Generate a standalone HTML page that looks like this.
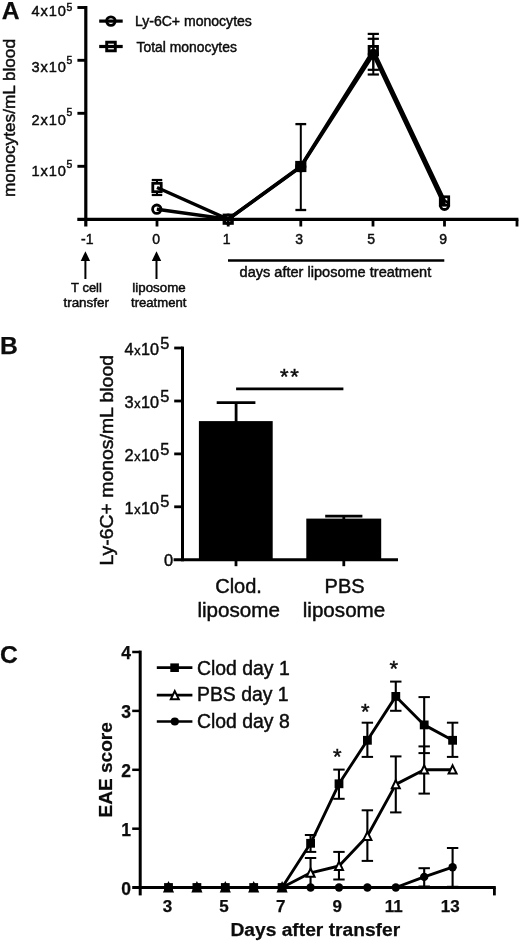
<!DOCTYPE html>
<html lang="en">
<head>
<meta charset="utf-8">
<title>Figure: monocyte depletion and EAE score</title>
<style>
html,body{margin:0;padding:0;background:#fff;}
body{width:520px;height:943px;overflow:hidden;}
svg{display:block;filter:blur(0.3px);font-family:"Liberation Sans",Arial,Helvetica,sans-serif;}
</style>
</head>
<body>
<svg width="520" height="943" viewBox="0 0 520 943">
<rect x="0" y="0" width="520" height="943" fill="#fff"/>
<g id="panelA" stroke="#000" fill="none">
<line x1="85.80" y1="6.00" x2="85.80" y2="226.50" stroke-width="3.2" />
<line x1="77.30" y1="219.40" x2="518.40" y2="219.40" stroke-width="3.4" />
<line x1="77.40" y1="7.50" x2="85.80" y2="7.50" stroke-width="2.9" />
<line x1="77.40" y1="60.30" x2="85.80" y2="60.30" stroke-width="2.9" />
<line x1="77.40" y1="113.30" x2="85.80" y2="113.30" stroke-width="2.9" />
<line x1="77.40" y1="166.30" x2="85.80" y2="166.30" stroke-width="2.9" />
<line x1="157.00" y1="219.40" x2="157.00" y2="226.50" stroke-width="2.8" />
<line x1="228.20" y1="219.40" x2="228.20" y2="226.50" stroke-width="2.8" />
<line x1="300.80" y1="219.40" x2="300.80" y2="226.50" stroke-width="2.8" />
<line x1="373.00" y1="219.40" x2="373.00" y2="226.50" stroke-width="2.8" />
<line x1="444.50" y1="219.40" x2="444.50" y2="226.50" stroke-width="2.8" />
<line x1="517.00" y1="219.40" x2="517.00" y2="226.50" stroke-width="2.8" />
<line x1="228.00" y1="260.50" x2="444.30" y2="260.50" stroke-width="2.3" />
<line x1="85.40" y1="259.00" x2="85.40" y2="279.00" stroke-width="2.0" />
<path d="M85.4 251.2 L90.1 260.9 L80.7 260.9 Z" fill="#000" stroke="none"/>
<line x1="156.50" y1="259.00" x2="156.50" y2="279.00" stroke-width="2.0" />
<path d="M156.5 251.2 L161.2 260.9 L151.8 260.9 Z" fill="#000" stroke="none"/>
<polyline points="157.0,187.5 228.2,219.2 300.8,166.5 373.3,50.6 444.5,201.0" stroke-width="3.4" stroke-linejoin="miter"/>
<polyline points="156.8,209.2 228.2,219.2 300.8,166.8 373.3,54.3 444.5,205.3" stroke-width="3.4" stroke-linejoin="miter"/>
<line x1="157.00" y1="180.00" x2="157.00" y2="183.50" stroke-width="2.0" />
<line x1="157.00" y1="191.50" x2="157.00" y2="195.00" stroke-width="2.0" />
<line x1="151.75" y1="180.00" x2="162.25" y2="180.00" stroke-width="2.2" />
<line x1="151.75" y1="195.00" x2="162.25" y2="195.00" stroke-width="2.2" />
<line x1="300.80" y1="124.10" x2="300.80" y2="210.00" stroke-width="2.0" />
<line x1="295.40" y1="124.10" x2="306.20" y2="124.10" stroke-width="2.3" />
<line x1="295.40" y1="210.00" x2="306.20" y2="210.00" stroke-width="2.3" />
<line x1="373.30" y1="33.90" x2="373.30" y2="69.80" stroke-width="2.0" />
<line x1="367.70" y1="33.90" x2="378.90" y2="33.90" stroke-width="2.2" />
<line x1="367.70" y1="69.80" x2="378.90" y2="69.80" stroke-width="2.2" />
<line x1="373.30" y1="38.80" x2="373.30" y2="74.50" stroke-width="2.0" />
<line x1="367.70" y1="38.80" x2="378.90" y2="38.80" stroke-width="2.2" />
<line x1="367.70" y1="74.50" x2="378.90" y2="74.50" stroke-width="2.2" />
<rect x="152.8" y="183.3" width="8.4" height="8.4" stroke-width="2.8"/>
<rect x="224.0" y="215.0" width="8.4" height="8.4" stroke-width="2.8"/>
<rect x="296.6" y="162.3" width="8.4" height="8.4" stroke-width="2.8"/>
<rect x="369.1" y="46.4" width="8.4" height="8.4" stroke-width="2.8"/>
<rect x="440.3" y="196.8" width="8.4" height="8.4" stroke-width="2.8"/>
<circle cx="156.8" cy="209.2" r="4.2" stroke-width="2.8"/>
<circle cx="228.2" cy="219.2" r="4.2" stroke-width="2.8"/>
<circle cx="300.8" cy="166.8" r="4.2" stroke-width="2.8"/>
<circle cx="373.3" cy="54.3" r="4.2" stroke-width="2.8"/>
<circle cx="444.5" cy="205.3" r="4.2" stroke-width="2.8"/>
<rect x="297.4" y="163.1" width="6.8" height="6.8" fill="#000" stroke="none"/>
<line x1="99.20" y1="21.10" x2="122.70" y2="21.10" stroke-width="3.2" />
<circle cx="110.9" cy="21.1" r="4.25" stroke-width="2.9"/>
<line x1="99.20" y1="46.50" x2="122.70" y2="46.50" stroke-width="3.2" />
<rect x="106.7" y="42.2" width="8.6" height="8.6" stroke-width="2.9"/>
</g>
<g id="panelAtext" fill="#0c0c0c">
<text x="1.70" y="18.90" font-size="24.7" font-weight="bold" text-anchor="start" stroke="#0c0c0c" stroke-width="0.25" >A</text>
<text x="134.90" y="26.40" font-size="13.9" font-weight="normal" text-anchor="start" textLength="117.0" lengthAdjust="spacingAndGlyphs" stroke="#0c0c0c" stroke-width="0.45" >Ly-6C+ monocytes</text>
<text x="136.60" y="51.50" font-size="13.9" font-weight="normal" text-anchor="start" textLength="100.3" lengthAdjust="spacingAndGlyphs" stroke="#0c0c0c" stroke-width="0.45" >Total monocytes</text>
<text x="31.6" y="16.0" font-size="14.6" textLength="34.2" lengthAdjust="spacing" stroke="#0c0c0c" stroke-width="0.45">4x10</text>
<text x="66.60" y="10.60" font-size="10.4" font-weight="normal" text-anchor="start" stroke="#0c0c0c" stroke-width="0.45" >5</text>
<text x="31.6" y="71.5" font-size="14.6" textLength="34.2" lengthAdjust="spacing" stroke="#0c0c0c" stroke-width="0.45">3x10</text>
<text x="66.60" y="63.50" font-size="10.4" font-weight="normal" text-anchor="start" stroke="#0c0c0c" stroke-width="0.45" >5</text>
<text x="31.6" y="124.6" font-size="14.6" textLength="34.2" lengthAdjust="spacing" stroke="#0c0c0c" stroke-width="0.45">2x10</text>
<text x="66.60" y="115.80" font-size="10.4" font-weight="normal" text-anchor="start" stroke="#0c0c0c" stroke-width="0.45" >5</text>
<text x="31.6" y="175.9" font-size="14.6" textLength="34.2" lengthAdjust="spacing" stroke="#0c0c0c" stroke-width="0.45">1x10</text>
<text x="66.60" y="167.60" font-size="10.4" font-weight="normal" text-anchor="start" stroke="#0c0c0c" stroke-width="0.45" >5</text>
<text x="87.20" y="244.20" font-size="14.0" font-weight="normal" text-anchor="middle" stroke="#0c0c0c" stroke-width="0.45" >-1</text>
<text x="156.20" y="244.20" font-size="14.0" font-weight="normal" text-anchor="middle" stroke="#0c0c0c" stroke-width="0.45" >0</text>
<text x="226.60" y="244.20" font-size="14.0" font-weight="normal" text-anchor="middle" stroke="#0c0c0c" stroke-width="0.45" >1</text>
<text x="299.20" y="244.20" font-size="14.0" font-weight="normal" text-anchor="middle" stroke="#0c0c0c" stroke-width="0.45" >3</text>
<text x="371.20" y="244.20" font-size="14.0" font-weight="normal" text-anchor="middle" stroke="#0c0c0c" stroke-width="0.45" >5</text>
<text x="443.10" y="244.20" font-size="14.0" font-weight="normal" text-anchor="middle" stroke="#0c0c0c" stroke-width="0.45" >9</text>
<text x="239.60" y="276.50" font-size="13.8" font-weight="normal" text-anchor="start" textLength="191.6" lengthAdjust="spacingAndGlyphs" stroke="#0c0c0c" stroke-width="0.45" >days after liposome treatment</text>
<text x="86.50" y="292.30" font-size="12.2" font-weight="normal" text-anchor="middle" textLength="30.8" lengthAdjust="spacingAndGlyphs" stroke="#0c0c0c" stroke-width="0.45" >T cell</text>
<text x="86.20" y="307.10" font-size="12.2" font-weight="normal" text-anchor="middle" textLength="45.5" lengthAdjust="spacingAndGlyphs" stroke="#0c0c0c" stroke-width="0.45" >transfer</text>
<text x="159.00" y="292.30" font-size="12.2" font-weight="normal" text-anchor="middle" textLength="53.4" lengthAdjust="spacingAndGlyphs" stroke="#0c0c0c" stroke-width="0.45" >liposome</text>
<text x="158.70" y="307.10" font-size="12.2" font-weight="normal" text-anchor="middle" textLength="55.4" lengthAdjust="spacingAndGlyphs" stroke="#0c0c0c" stroke-width="0.45" >treatment</text>
<text transform="translate(15.1 197) rotate(-90)" font-size="17" stroke="#0c0c0c" stroke-width="0.45" textLength="158" lengthAdjust="spacingAndGlyphs">monocytes/mL blood</text>
</g>
<g id="panelB" stroke="#000" fill="none">
<line x1="182.50" y1="346.60" x2="182.50" y2="561.30" stroke-width="3" />
<line x1="173.60" y1="559.80" x2="398.00" y2="559.80" stroke-width="3" />
<line x1="174.20" y1="348.00" x2="182.50" y2="348.00" stroke-width="2.8" />
<line x1="174.20" y1="401.00" x2="182.50" y2="401.00" stroke-width="2.8" />
<line x1="174.20" y1="453.90" x2="182.50" y2="453.90" stroke-width="2.8" />
<line x1="174.20" y1="506.80" x2="182.50" y2="506.80" stroke-width="2.8" />
<line x1="236.00" y1="559.80" x2="236.00" y2="566.20" stroke-width="2.8" />
<line x1="343.80" y1="559.80" x2="343.80" y2="566.20" stroke-width="2.8" />
<rect x="198.9" y="421.1" width="73.8" height="138.7" fill="#000" stroke="none"/>
<rect x="306.3" y="518.6" width="74.9" height="41.2" fill="#000" stroke="none"/>
<line x1="236.10" y1="402.70" x2="236.10" y2="422.00" stroke-width="2.8" />
<line x1="216.70" y1="402.70" x2="255.40" y2="402.70" stroke-width="2.8" />
<line x1="325.20" y1="516.20" x2="362.40" y2="516.20" stroke-width="2.8" />
<line x1="343.80" y1="516.20" x2="343.80" y2="519.00" stroke-width="2.8" />
<line x1="236.10" y1="388.80" x2="343.40" y2="388.80" stroke-width="2.8" />
</g>
<g id="panelBtext" fill="#0c0c0c">
<text x="0.00" y="354.00" font-size="24.7" font-weight="bold" text-anchor="start" stroke="#0c0c0c" stroke-width="0.25" >B</text>
<text x="124.60" y="355.00" font-size="16.4" font-weight="normal" text-anchor="start" stroke="#0c0c0c" stroke-width="0.45" >4</text>
<text x="134.30" y="355.00" font-size="12.6" font-weight="normal" text-anchor="start" stroke="#0c0c0c" stroke-width="0.45" >x</text>
<text x="141.00" y="355.00" font-size="16.4" font-weight="normal" text-anchor="start" textLength="18.0" lengthAdjust="spacingAndGlyphs" stroke="#0c0c0c" stroke-width="0.45" >10</text>
<text x="160.20" y="348.60" font-size="16.4" font-weight="normal" text-anchor="start" stroke="#0c0c0c" stroke-width="0.45" >5</text>
<text x="124.60" y="408.00" font-size="16.4" font-weight="normal" text-anchor="start" stroke="#0c0c0c" stroke-width="0.45" >3</text>
<text x="134.30" y="408.00" font-size="12.6" font-weight="normal" text-anchor="start" stroke="#0c0c0c" stroke-width="0.45" >x</text>
<text x="141.00" y="408.00" font-size="16.4" font-weight="normal" text-anchor="start" textLength="18.0" lengthAdjust="spacingAndGlyphs" stroke="#0c0c0c" stroke-width="0.45" >10</text>
<text x="160.20" y="401.60" font-size="16.4" font-weight="normal" text-anchor="start" stroke="#0c0c0c" stroke-width="0.45" >5</text>
<text x="124.60" y="460.90" font-size="16.4" font-weight="normal" text-anchor="start" stroke="#0c0c0c" stroke-width="0.45" >2</text>
<text x="134.30" y="460.90" font-size="12.6" font-weight="normal" text-anchor="start" stroke="#0c0c0c" stroke-width="0.45" >x</text>
<text x="141.00" y="460.90" font-size="16.4" font-weight="normal" text-anchor="start" textLength="18.0" lengthAdjust="spacingAndGlyphs" stroke="#0c0c0c" stroke-width="0.45" >10</text>
<text x="160.20" y="454.50" font-size="16.4" font-weight="normal" text-anchor="start" stroke="#0c0c0c" stroke-width="0.45" >5</text>
<text x="124.60" y="513.80" font-size="16.4" font-weight="normal" text-anchor="start" stroke="#0c0c0c" stroke-width="0.45" >1</text>
<text x="134.30" y="513.80" font-size="12.6" font-weight="normal" text-anchor="start" stroke="#0c0c0c" stroke-width="0.45" >x</text>
<text x="141.00" y="513.80" font-size="16.4" font-weight="normal" text-anchor="start" textLength="18.0" lengthAdjust="spacingAndGlyphs" stroke="#0c0c0c" stroke-width="0.45" >10</text>
<text x="160.20" y="507.40" font-size="16.4" font-weight="normal" text-anchor="start" stroke="#0c0c0c" stroke-width="0.45" >5</text>
<text x="164.00" y="565.70" font-size="16.4" font-weight="normal" text-anchor="start" stroke="#0c0c0c" stroke-width="0.45" >0</text>
<text x="284.20" y="383.50" font-size="22" font-weight="normal" text-anchor="middle" stroke="#0c0c0c" stroke-width="0.45" >*</text>
<text x="294.60" y="383.50" font-size="22" font-weight="normal" text-anchor="middle" stroke="#0c0c0c" stroke-width="0.45" >*</text>
<text x="238.60" y="592.50" font-size="20" font-weight="normal" text-anchor="middle" stroke="#0c0c0c" stroke-width="0.45" >Clod.</text>
<text x="238.70" y="616.80" font-size="20" font-weight="normal" text-anchor="middle" textLength="82.5" lengthAdjust="spacingAndGlyphs" stroke="#0c0c0c" stroke-width="0.45" >liposome</text>
<text x="344.60" y="592.50" font-size="20" font-weight="normal" text-anchor="middle" stroke="#0c0c0c" stroke-width="0.45" >PBS</text>
<text x="344.00" y="616.80" font-size="20" font-weight="normal" text-anchor="middle" textLength="82.5" lengthAdjust="spacingAndGlyphs" stroke="#0c0c0c" stroke-width="0.45" >liposome</text>
<text transform="translate(113 565.5) rotate(-90)" font-size="19" stroke="#0c0c0c" stroke-width="0.45" textLength="210.5" lengthAdjust="spacingAndGlyphs">Ly-6C+ monos/mL blood</text>
</g>
<g id="panelC" stroke="#000" fill="none">
<line x1="140.20" y1="650.60" x2="140.20" y2="895.40" stroke-width="3" />
<line x1="132.20" y1="887.50" x2="495.80" y2="887.50" stroke-width="3.2" />
<line x1="132.20" y1="828.70" x2="140.20" y2="828.70" stroke-width="2.5" />
<line x1="132.20" y1="769.80" x2="140.20" y2="769.80" stroke-width="2.5" />
<line x1="132.20" y1="710.90" x2="140.20" y2="710.90" stroke-width="2.5" />
<line x1="132.20" y1="652.00" x2="140.20" y2="652.00" stroke-width="2.5" />
<line x1="494.40" y1="887.50" x2="494.40" y2="895.40" stroke-width="2.8" />
<polyline points="168.5,887.5 196.9,887.5 225.3,887.5 253.7,887.5 282.1,887.5 310.6,872.8 339.0,866.0 367.4,836.0 395.8,784.4 424.2,769.7 452.6,769.7" stroke-width="2.9" stroke-linejoin="round"/>
<line x1="310.55" y1="858.00" x2="310.55" y2="887.00" stroke-width="2.1" />
<line x1="304.85" y1="858.00" x2="316.25" y2="858.00" stroke-width="2.0" />
<line x1="304.85" y1="887.00" x2="316.25" y2="887.00" stroke-width="2.0" />
<line x1="338.96" y1="851.90" x2="338.96" y2="879.50" stroke-width="2.1" />
<line x1="333.26" y1="851.90" x2="344.66" y2="851.90" stroke-width="2.0" />
<line x1="333.26" y1="879.50" x2="344.66" y2="879.50" stroke-width="2.0" />
<line x1="367.37" y1="810.30" x2="367.37" y2="860.90" stroke-width="2.1" />
<line x1="361.67" y1="810.30" x2="373.07" y2="810.30" stroke-width="2.0" />
<line x1="361.67" y1="860.90" x2="373.07" y2="860.90" stroke-width="2.0" />
<line x1="395.78" y1="756.40" x2="395.78" y2="812.40" stroke-width="2.1" />
<line x1="390.08" y1="756.40" x2="401.48" y2="756.40" stroke-width="2.0" />
<line x1="390.08" y1="812.40" x2="401.48" y2="812.40" stroke-width="2.0" />
<line x1="424.19" y1="746.40" x2="424.19" y2="793.60" stroke-width="2.1" />
<line x1="418.49" y1="746.40" x2="429.89" y2="746.40" stroke-width="2.0" />
<line x1="418.49" y1="793.60" x2="429.89" y2="793.60" stroke-width="2.0" />
<path d="M168.5 883.2 L172.5 891.4 L164.5 891.4 Z" fill="#fff" stroke-width="2" stroke-linejoin="miter"/>
<path d="M196.9 883.2 L200.9 891.4 L192.9 891.4 Z" fill="#fff" stroke-width="2" stroke-linejoin="miter"/>
<path d="M225.3 883.2 L229.3 891.4 L221.3 891.4 Z" fill="#fff" stroke-width="2" stroke-linejoin="miter"/>
<path d="M253.7 883.2 L257.7 891.4 L249.7 891.4 Z" fill="#fff" stroke-width="2" stroke-linejoin="miter"/>
<path d="M282.1 883.2 L286.1 891.4 L278.1 891.4 Z" fill="#fff" stroke-width="2" stroke-linejoin="miter"/>
<path d="M310.6 868.5 L314.6 876.7 L306.6 876.7 Z" fill="#fff" stroke-width="2" stroke-linejoin="miter"/>
<path d="M339.0 861.7 L343.0 869.9 L335.0 869.9 Z" fill="#fff" stroke-width="2" stroke-linejoin="miter"/>
<path d="M367.4 831.7 L371.4 839.9 L363.4 839.9 Z" fill="#fff" stroke-width="2" stroke-linejoin="miter"/>
<path d="M395.8 780.1 L399.8 788.3 L391.8 788.3 Z" fill="#fff" stroke-width="2" stroke-linejoin="miter"/>
<path d="M424.2 765.4 L428.2 773.6 L420.2 773.6 Z" fill="#fff" stroke-width="2" stroke-linejoin="miter"/>
<path d="M452.6 765.4 L456.6 773.6 L448.6 773.6 Z" fill="#fff" stroke-width="2" stroke-linejoin="miter"/>
<polyline points="168.5,887.5 196.9,887.5 225.3,887.5 253.7,887.5 282.1,887.5 310.6,843.3 339.0,783.8 367.4,740.2 395.8,696.4 424.2,724.9 452.6,740.2" stroke-width="2.9" stroke-linejoin="round"/>
<line x1="310.55" y1="835.00" x2="310.55" y2="851.90" stroke-width="2.1" />
<line x1="304.85" y1="835.00" x2="316.25" y2="835.00" stroke-width="2.0" />
<line x1="304.85" y1="851.90" x2="316.25" y2="851.90" stroke-width="2.0" />
<line x1="338.96" y1="769.60" x2="338.96" y2="798.80" stroke-width="2.1" />
<line x1="333.26" y1="769.60" x2="344.66" y2="769.60" stroke-width="2.0" />
<line x1="333.26" y1="798.80" x2="344.66" y2="798.80" stroke-width="2.0" />
<line x1="367.37" y1="722.70" x2="367.37" y2="756.90" stroke-width="2.1" />
<line x1="361.67" y1="722.70" x2="373.07" y2="722.70" stroke-width="2.0" />
<line x1="361.67" y1="756.90" x2="373.07" y2="756.90" stroke-width="2.0" />
<line x1="395.78" y1="681.60" x2="395.78" y2="710.80" stroke-width="2.1" />
<line x1="390.08" y1="681.60" x2="401.48" y2="681.60" stroke-width="2.0" />
<line x1="390.08" y1="710.80" x2="401.48" y2="710.80" stroke-width="2.0" />
<line x1="424.19" y1="697.10" x2="424.19" y2="753.10" stroke-width="2.1" />
<line x1="418.49" y1="697.10" x2="429.89" y2="697.10" stroke-width="2.0" />
<line x1="418.49" y1="753.10" x2="429.89" y2="753.10" stroke-width="2.0" />
<line x1="452.60" y1="722.70" x2="452.60" y2="756.90" stroke-width="2.1" />
<line x1="446.90" y1="722.70" x2="458.30" y2="722.70" stroke-width="2.0" />
<line x1="446.90" y1="756.90" x2="458.30" y2="756.90" stroke-width="2.0" />
<rect x="164.1" y="883.1" width="8.8" height="8.8" fill="#000" stroke="none"/>
<rect x="192.5" y="883.1" width="8.8" height="8.8" fill="#000" stroke="none"/>
<rect x="220.9" y="883.1" width="8.8" height="8.8" fill="#000" stroke="none"/>
<rect x="249.3" y="883.1" width="8.8" height="8.8" fill="#000" stroke="none"/>
<rect x="277.7" y="883.1" width="8.8" height="8.8" fill="#000" stroke="none"/>
<rect x="306.2" y="838.9" width="8.8" height="8.8" fill="#000" stroke="none"/>
<rect x="334.6" y="779.4" width="8.8" height="8.8" fill="#000" stroke="none"/>
<rect x="363.0" y="735.9" width="8.8" height="8.8" fill="#000" stroke="none"/>
<rect x="391.4" y="692.0" width="8.8" height="8.8" fill="#000" stroke="none"/>
<rect x="419.8" y="720.5" width="8.8" height="8.8" fill="#000" stroke="none"/>
<rect x="448.2" y="735.9" width="8.8" height="8.8" fill="#000" stroke="none"/>
<polyline points="168.5,887.5 196.9,887.5 225.3,887.5 253.7,887.5 282.1,887.5 310.6,887.5 339.0,887.5 367.4,887.5 395.8,887.5 424.2,876.9 452.6,867.2" stroke-width="2.9" stroke-linejoin="round"/>
<line x1="424.19" y1="868.20" x2="424.19" y2="886.50" stroke-width="2.1" />
<line x1="418.49" y1="868.20" x2="429.89" y2="868.20" stroke-width="2.0" />
<line x1="418.49" y1="886.50" x2="429.89" y2="886.50" stroke-width="2.0" />
<line x1="452.60" y1="848.00" x2="452.60" y2="886.80" stroke-width="2.1" />
<line x1="446.90" y1="848.00" x2="458.30" y2="848.00" stroke-width="2.0" />
<line x1="446.90" y1="886.80" x2="458.30" y2="886.80" stroke-width="2.0" />
<circle cx="168.5" cy="887.5" r="4.2" fill="#000" stroke="none"/>
<circle cx="196.9" cy="887.5" r="4.2" fill="#000" stroke="none"/>
<circle cx="225.3" cy="887.5" r="4.2" fill="#000" stroke="none"/>
<circle cx="253.7" cy="887.5" r="4.2" fill="#000" stroke="none"/>
<circle cx="282.1" cy="887.5" r="4.2" fill="#000" stroke="none"/>
<circle cx="310.6" cy="887.5" r="4.2" fill="#000" stroke="none"/>
<circle cx="339.0" cy="887.5" r="4.2" fill="#000" stroke="none"/>
<circle cx="367.4" cy="887.5" r="4.2" fill="#000" stroke="none"/>
<circle cx="395.8" cy="887.5" r="4.2" fill="#000" stroke="none"/>
<circle cx="424.2" cy="876.9" r="4.2" fill="#000" stroke="none"/>
<circle cx="452.6" cy="867.2" r="4.2" fill="#000" stroke="none"/>
<line x1="156.80" y1="667.70" x2="192.40" y2="667.70" stroke-width="2.7" />
<line x1="156.80" y1="695.10" x2="192.40" y2="695.10" stroke-width="2.7" />
<line x1="156.80" y1="721.50" x2="192.40" y2="721.50" stroke-width="2.7" />
<rect x="170.3" y="663.4" width="8.6" height="8.6" fill="#000" stroke="none"/>
<path d="M174.8 691.1 L178.8 699.3 L170.8 699.3 Z" fill="#fff" stroke-width="2"/>
<circle cx="174.8" cy="721.5" r="4.1" fill="#000" stroke="none"/>
</g>
<g id="panelCtext" fill="#0c0c0c">
<text x="0.10" y="663.30" font-size="24.7" font-weight="bold" text-anchor="start" stroke="#0c0c0c" stroke-width="0.25" >C</text>
<text x="126.00" y="894.80" font-size="17.5" font-weight="bold" text-anchor="middle" stroke="#0c0c0c" stroke-width="0.25" >0</text>
<text x="126.00" y="835.90" font-size="17.5" font-weight="bold" text-anchor="middle" stroke="#0c0c0c" stroke-width="0.25" >1</text>
<text x="126.00" y="777.00" font-size="17.5" font-weight="bold" text-anchor="middle" stroke="#0c0c0c" stroke-width="0.25" >2</text>
<text x="126.00" y="718.10" font-size="17.5" font-weight="bold" text-anchor="middle" stroke="#0c0c0c" stroke-width="0.25" >3</text>
<text x="126.00" y="659.20" font-size="17.5" font-weight="bold" text-anchor="middle" stroke="#0c0c0c" stroke-width="0.25" >4</text>
<text x="167.50" y="912.30" font-size="17.0" font-weight="bold" text-anchor="middle" stroke="#0c0c0c" stroke-width="0.25" >3</text>
<text x="224.06" y="912.30" font-size="17.0" font-weight="bold" text-anchor="middle" stroke="#0c0c0c" stroke-width="0.25" >5</text>
<text x="280.62" y="912.30" font-size="17.0" font-weight="bold" text-anchor="middle" stroke="#0c0c0c" stroke-width="0.25" >7</text>
<text x="337.18" y="912.30" font-size="17.0" font-weight="bold" text-anchor="middle" stroke="#0c0c0c" stroke-width="0.25" >9</text>
<text x="393.74" y="912.30" font-size="17.0" font-weight="bold" text-anchor="middle" stroke="#0c0c0c" stroke-width="0.25" >11</text>
<text x="450.30" y="912.30" font-size="17.0" font-weight="bold" text-anchor="middle" stroke="#0c0c0c" stroke-width="0.25" >13</text>
<text x="197.00" y="674.60" font-size="19.4" font-weight="normal" text-anchor="start" stroke="#0c0c0c" stroke-width="0.45" >Clod day 1</text>
<text x="197.00" y="701.00" font-size="19.4" font-weight="normal" text-anchor="start" stroke="#0c0c0c" stroke-width="0.45" >PBS day 1</text>
<text x="197.00" y="727.70" font-size="19.4" font-weight="normal" text-anchor="start" stroke="#0c0c0c" stroke-width="0.45" >Clod day 8</text>
<text x="230.40" y="936.30" font-size="18.9" font-weight="bold" text-anchor="start" textLength="169.8" lengthAdjust="spacingAndGlyphs" stroke="#0c0c0c" stroke-width="0.25" >Days after transfer</text>
<text x="337.20" y="763.90" font-size="22" font-weight="normal" text-anchor="middle" stroke="#0c0c0c" stroke-width="0.45" >*</text>
<text x="365.40" y="719.00" font-size="22" font-weight="normal" text-anchor="middle" stroke="#0c0c0c" stroke-width="0.45" >*</text>
<text x="393.90" y="675.50" font-size="22" font-weight="normal" text-anchor="middle" stroke="#0c0c0c" stroke-width="0.45" >*</text>
<text transform="translate(112.2 817.6) rotate(-90)" font-size="18.9" font-weight="bold" stroke="#0c0c0c" stroke-width="0.25" textLength="95.5" lengthAdjust="spacingAndGlyphs">EAE score</text>
</g>
</svg>
</body>
</html>
